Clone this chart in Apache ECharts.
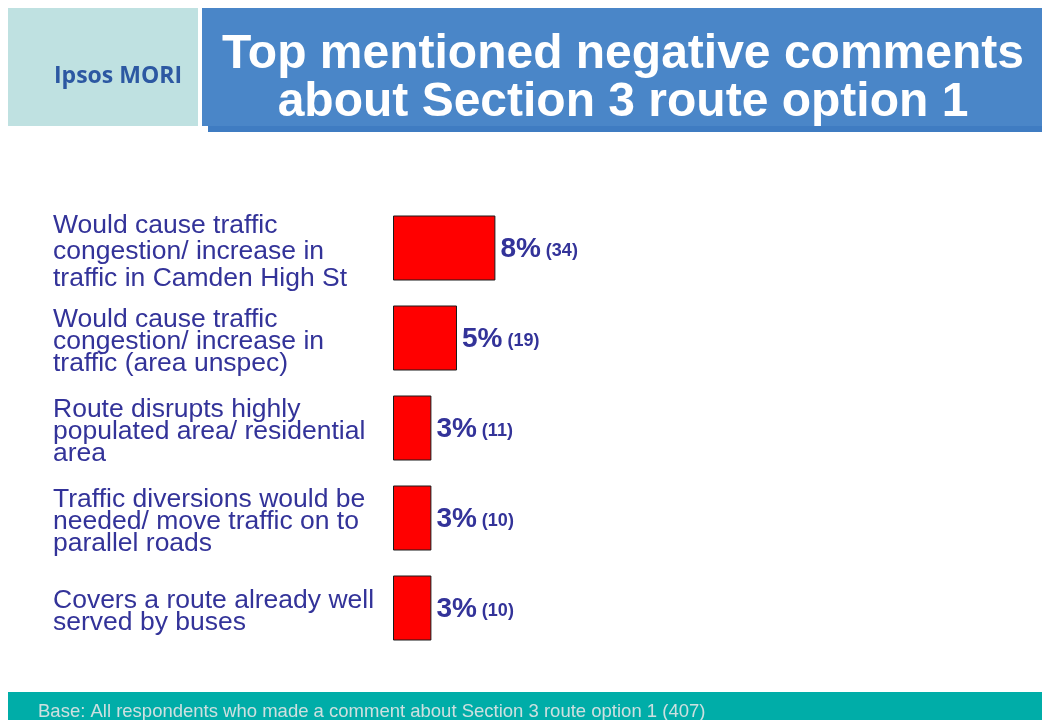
<!DOCTYPE html>
<html>
<head>
<meta charset="utf-8">
<script src="https://cdn.jsdelivr.net/npm/echarts@6/dist/echarts.min.js"></script>
<style>
html,body{margin:0;padding:0;background:#fff;}
#chart{width:1042px;height:720px;}
</style>
</head>
<body>
<div id="chart"></div>
<script>
const categories = [
  'Would cause traffic\ncongestion/ increase in\ntraffic in Camden High St',
  'Would cause traffic\ncongestion/ increase in\ntraffic (area unspec)',
  'Route disrupts highly\npopulated area/ residential\narea',
  'Traffic diversions would be\nneeded/ move traffic on to\nparallel roads',
  'Covers a route already well\nserved by buses'
];
const percents = [8, 5, 3, 3, 3];
const counts = [34, 19, 11, 10, 10];
const titleLines = ['Top mentioned negative comments', 'about Section 3 route option 1'];
const brand = 'Ipsos MORI';
const baseNote = 'Base: All respondents who made a comment about Section 3 route option 1 (407)';

const chart = echarts.init(document.getElementById('chart'));
const FONT = '"Liberation Sans", Arial, sans-serif';
const TXT = '#333399';

chart.setOption({
  backgroundColor: '#ffffff',
  animation: false,
  grid: { left: 393, top: 203, width: 640, height: 450, containLabel: false },
  xAxis: { type: 'value', min: 0, max: 50, show: false },
  yAxis: {
    type: 'category',
    data: categories,
    inverse: true,
    axisLine: { show: false },
    axisTick: { show: false },
    splitLine: { show: false },
    axisLabel: {
      align: 'left',
      margin: 340,
      padding: [8, 0, 0, 0],
      formatter: function (v, i) { return i === 0 ? '{w|' + v + '}' : '{n|' + v + '}'; },
      rich: {
        w: { fontFamily: FONT, fontSize: 26.5, lineHeight: 26.5, color: TXT },
        n: { fontFamily: FONT, fontSize: 26.5, lineHeight: 22, color: TXT }
      }
    }
  },
  series: [{
    type: 'bar',
    data: percents,
    barWidth: 65,
    itemStyle: { color: '#ff0000', borderColor: '#1a1a1a', borderWidth: 1 },
    label: {
      show: true,
      position: 'right',
      distance: 5,
      formatter: function (p) { return '{a|' + p.value + '%}{s| }{b|(' + counts[p.dataIndex] + ')}'; },
      rich: {
        a: { fontFamily: FONT, fontSize: 28, fontWeight: 'bold', color: TXT, verticalAlign: 'bottom', lineHeight: 30 },
        s: { fontFamily: FONT, fontSize: 18, color: TXT, verticalAlign: 'bottom' },
        b: { fontFamily: FONT, fontSize: 18, fontWeight: 'bold', color: TXT, verticalAlign: 'bottom', padding: [0, 0, 3, 0] }
      }
    }
  }],
  graphic: [
    { type: 'rect', shape: { x: 8, y: 8, width: 190, height: 118 }, style: { fill: '#bfe1e1' }, silent: true },
    { type: 'rect', shape: { x: 208, y: 14, width: 834, height: 118 }, style: { fill: '#3f7cc2' }, silent: true },
    { type: 'rect', shape: { x: 202, y: 8, width: 840, height: 118 }, style: { fill: '#4a86c8' }, silent: true },
    { type: 'text', x: 118, y: 76, style: { text: brand, fill: '#2c58a2', font: 'bold 23px "Open Sans", sans-serif', textAlign: 'center', textVerticalAlign: 'middle' }, silent: true },
    { type: 'text', x: 623, y: 79, style: { text: titleLines.join('\n'), fill: '#ffffff', font: 'bold 48px "Liberation Sans", Arial, sans-serif', lineHeight: 48, textAlign: 'center', textVerticalAlign: 'middle' }, silent: true },
    { type: 'rect', shape: { x: 8, y: 692, width: 1034, height: 28 }, style: { fill: '#00ada8' }, silent: true },
    { type: 'text', x: 38, y: 712, style: { text: baseNote, fill: '#cde0e0', font: '18.5px "Liberation Sans", Arial, sans-serif', textAlign: 'left', textVerticalAlign: 'middle' }, silent: true }
  ]
});
</script>
</body>
</html>
